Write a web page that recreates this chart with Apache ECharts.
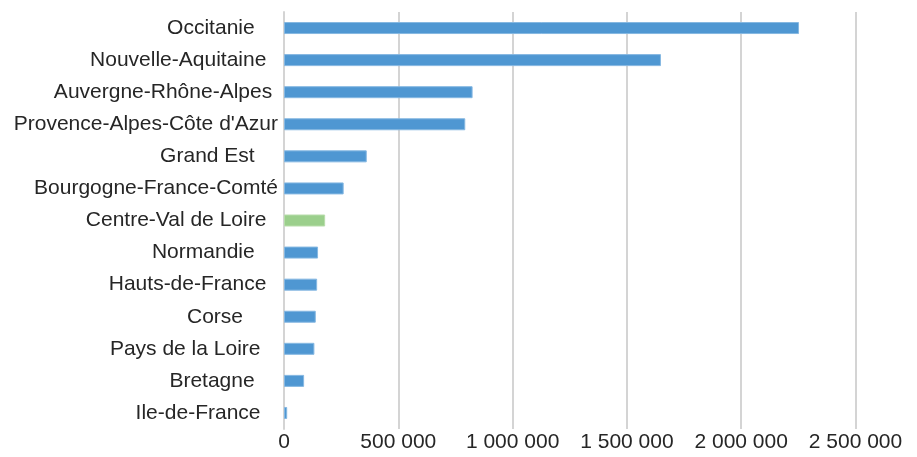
<!DOCTYPE html>
<html><head><meta charset="utf-8">
<script src="https://cdn.jsdelivr.net/npm/echarts@6/dist/echarts.min.js"></script>
<style>html,body{margin:0;padding:0;background:#fff}#c{width:917px;height:457px}</style>
</head><body><div id="c"></div>
<script>
const categories = ["Occitanie    ","Nouvelle-Aquitaine  ","Auvergne-Rhône-Alpes ","Provence-Alpes-Côte d'Azur","Grand Est    ","Bourgogne-France-Comté","Centre-Val de Loire  ","Normandie    ","Hauts-de-France  ","Corse      ","Pays de la Loire   ","Bretagne    ","Ile-de-France   "];
const values = [2253000,1649000,825000,793000,362000,261000,180000,149000,145000,139000,133000,88000,14000];
const highlighted = "Centre-Val de Loire  ";
const xTicks = [0,500000,1000000,1500000,2000000,2500000];

const font = "'Liberation Sans', Arial, sans-serif";
const chart = echarts.init(document.getElementById('c'), null, {renderer:'canvas'});
chart.setOption({
  animation:false,
  grid:{left:284,right:61.5,top:12,bottom:28,containLabel:false},
  xAxis:{type:'value',min:xTicks[0],max:xTicks[xTicks.length-1],interval:500000,
    axisLine:{show:false},axisTick:{show:false},
    splitLine:{lineStyle:{color:'#d4d4d4',width:2}},
    axisLabel:{color:'#262626',fontFamily:font,fontSize:21,margin:3,
      formatter:v=>String(v).replace(/\B(?=(\d{3})+(?!\d))/g,' ')}},
  yAxis:{type:'category',inverse:true,data:categories,
    axisLine:{show:true,lineStyle:{color:'#d4d4d4',width:2}},axisTick:{show:false},
    axisLabel:{color:'#262626',fontFamily:font,fontSize:21,margin:6}},
  series:[{type:'bar',barWidth:12,
    data:values.map((v,i)=>({value:v,itemStyle:{
      color: categories[i]===highlighted ? '#9bcf8c' : '#4f97d2',
      borderColor: categories[i]===highlighted ? '#b8ddab' : '#86b8e2',borderWidth:1}}))}]
});
</script></body></html>
